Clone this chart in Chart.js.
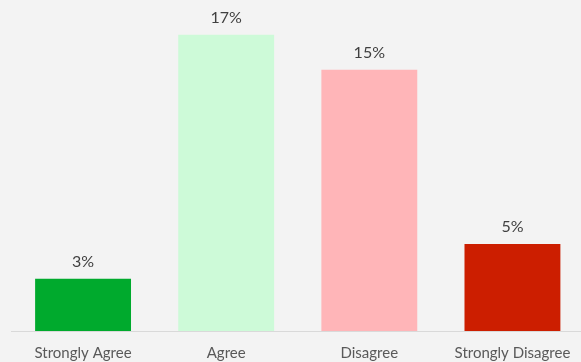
<!DOCTYPE html>
<html>
<head>
<meta charset="utf-8">
<script src="https://cdn.jsdelivr.net/npm/chart.js@4.4.1/dist/chart.umd.min.js"></script>
<style>
  html, body { margin: 0; padding: 0; background: #f3f3f3; overflow: hidden; }
  #wrap { position: relative; width: 584px; height: 362px; }
</style>
</head>
<body>
<div id="wrap"><canvas id="surveyChart"></canvas></div>
<script>
// survey answers, share of respondents in percent
const categories = ["Strongly Agree", "Agree", "Disagree", "Strongly Disagree"];
const shares = [3, 17, 15, 5];
const barColors = ["#00aa2d", "#cdfad8", "#ffb5b8", "#cc1e00"];

// writes "N%" above each bar
const valueLabels = {
  id: "valueLabels",
  afterDatasetsDraw(chart) {
    const ctx = chart.ctx;
    const meta = chart.getDatasetMeta(0);
    ctx.save();
    ctx.font = "16px Lato";
    ctx.fillStyle = "#404040";
    ctx.textAlign = "center";
    ctx.textBaseline = "middle";
    meta.data.forEach((bar, i) => {
      ctx.fillText(shares[i] + "%", bar.x, bar.y - 17);
    });
    ctx.restore();
  }
};

const ctx = document.getElementById("surveyChart").getContext("2d");
new Chart(ctx, {
  type: "bar",
  data: {
    labels: categories,
    datasets: [{
      data: shares,
      backgroundColor: barColors,
      categoryPercentage: 1,
      barPercentage: 0.67
    }]
  },
  options: {
    responsive: true,
    maintainAspectRatio: false,
    animation: false,
    layout: { padding: { left: 11.5, top: 0, right: 0, bottom: 0 } },
    plugins: {
      legend: { display: false },
      tooltip: { enabled: false }
    },
    scales: {
      x: {
        grid: { display: false, drawTicks: false },
        border: { display: true, color: "#d9d9d9", width: 1 },
        ticks: {
          color: "#595959",
          font: { family: "Lato", size: 15 },
          padding: 13,
          maxRotation: 0,
          autoSkip: false
        },
        afterFit(scale) { scale.height = 31; }
      },
      y: {
        display: false,
        min: 0,
        max: 19
      }
    }
  },
  plugins: [valueLabels]
});
</script>
</body>
</html>
